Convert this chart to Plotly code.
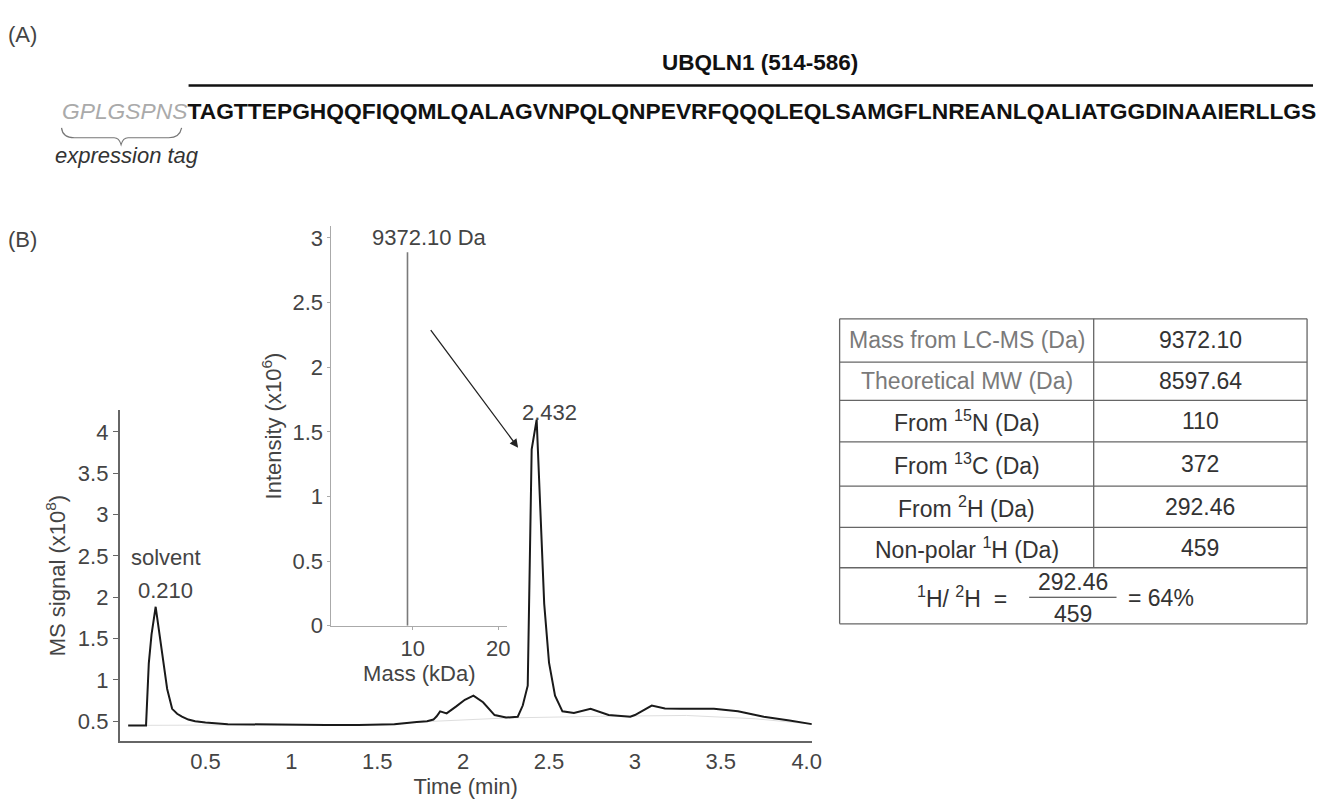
import plotly.graph_objects as go

W, H = 1326, 810
FONT = "Liberation Sans, Arial, sans-serif"

# ---------------- data ----------------
time_min = [0.05, 0.10, 0.154, 0.17, 0.186, 0.21, 0.23, 0.248, 0.277, 0.306, 0.335, 0.363, 0.40,
            0.44, 0.50, 0.63, 0.80, 1.01, 1.20, 1.39, 1.60, 1.73, 1.79, 1.827, 1.846, 1.866,
            1.904, 1.96, 2.01, 2.06, 2.116, 2.183, 2.25, 2.318, 2.347, 2.376, 2.399, 2.428,
            2.472, 2.50, 2.535, 2.578, 2.645, 2.742, 2.847, 2.973, 3.0, 3.098, 3.175, 3.27,
            3.46, 3.60, 3.75, 3.90, 4.03]
ms_signal = [0.45, 0.45, 0.45, 1.2, 1.55, 1.885, 1.6, 1.29, 0.89, 0.65, 0.59, 0.556, 0.52,
             0.50, 0.485, 0.465, 0.46, 0.455, 0.455, 0.455, 0.465, 0.49, 0.50, 0.52, 0.56, 0.62,
             0.595, 0.68, 0.76, 0.81, 0.73, 0.575, 0.545, 0.555, 0.69, 0.93, 3.79, 4.15,
             1.92, 1.21, 0.81, 0.62, 0.60, 0.65, 0.575, 0.555, 0.575, 0.69, 0.655, 0.65,
             0.65, 0.62, 0.555, 0.51, 0.465]

baseline_time = [0.05, 0.5, 1.0, 1.5, 1.73, 2.26, 2.8, 3.3, 3.7, 4.03]
baseline_signal = [0.45, 0.455, 0.455, 0.46, 0.49, 0.54, 0.56, 0.57, 0.53, 0.465]

deconv_mass_kda = [9.3721, 9.3721]
deconv_intensity = [0.0, 2.89]

main_yticks = [0.5, 1, 1.5, 2, 2.5, 3, 3.5, 4]
main_xticks = [0.5, 1, 1.5, 2, 2.5, 3, 3.5, 4.0]
main_xticklabels = ["0.5", "1", "1.5", "2", "2.5", "3", "3.5", "4.0"]
inset_yticks = [0, 0.5, 1, 1.5, 2, 2.5, 3]
inset_yticklabels = ["0", "0.5", "1", "1.5", "2", "2.5", "3"]
inset_xticks = [10, 20]

table_labels = ["Mass from LC-MS (Da)", "Theoretical MW (Da)", "From <sup>15</sup>N (Da)",
                "From <sup>13</sup>C (Da)", "From <sup>2</sup>H (Da)", "Non-polar <sup>1</sup>H (Da)"]
table_values = ["9372.10", "8597.64", "110", "372", "292.46", "459"]
label_colors = ["#7a7a7a", "#7a7a7a", "#333333", "#333333", "#333333", "#333333"]

tag_seq = "GPLGSPNS"
main_seq = "TAGTTEPGHQQFIQQMLQALAGVNPQLQNPEVRFQQQLEQLSAMGFLNREANLQALIATGGDINAAIERLLGS"


def px(x):
    return x / W


def py(y):
    return 1 - y / H


fig = go.Figure()

fig.add_trace(go.Scatter(x=baseline_time, y=baseline_signal, mode="lines",
                         line=dict(color="#dedede", width=1), xaxis="x", yaxis="y",
                         hoverinfo="skip", showlegend=False))
fig.add_trace(go.Scatter(x=time_min, y=ms_signal, mode="lines",
                         line=dict(color="#1a1a1a", width=2), xaxis="x", yaxis="y",
                         showlegend=False))
fig.add_trace(go.Scatter(x=deconv_mass_kda, y=deconv_intensity, mode="lines",
                         line=dict(color="#7a7a7a", width=1.6), xaxis="x2", yaxis="y2",
                         showlegend=False))

axis_font = dict(family=FONT, size=22, color="#444")

fig.update_layout(
    width=W, height=H, margin=dict(l=0, r=0, t=0, b=0),
    paper_bgcolor="white", plot_bgcolor="rgba(0,0,0,0)",
    font=dict(family=FONT, size=22, color="#333"),
    xaxis=dict(domain=[px(120.5), px(818)], range=[0, 4.03], showgrid=False, zeroline=False,
               showline=True, linecolor="#666", linewidth=1.5, tickvals=main_xticks,
               ticktext=main_xticklabels, ticks="", tickfont=axis_font,
               title=dict(text="Time (min)", font=axis_font, standoff=6)),
    yaxis=dict(domain=[py(753), py(417)], range=[0.262, 4.262], showgrid=False, zeroline=False,
               showline=True, linecolor="#666", linewidth=1.5, tickvals=main_yticks,
               ticks="outside", ticklen=5, tickcolor="#666", tickfont=axis_font,
               title=dict(text="MS signal (x10<sup>8</sup>)", font=axis_font, standoff=6)),
    xaxis2=dict(domain=[px(334), px(511)], range=[0.465, 21.05], anchor="y2", showgrid=False,
                zeroline=False, showline=True, linecolor="#aaa", linewidth=1, tickvals=inset_xticks,
                ticks="outside", ticklen=3, tickcolor="#aaa", tickfont=axis_font,
                title=dict(text="Mass (kDa)", font=axis_font, standoff=0)),
    yaxis2=dict(domain=[py(636), py(230)], range=[0, 3.09], anchor="x2", showgrid=False,
                zeroline=False, showline=True, linecolor="#aaa", linewidth=1,
                tickvals=inset_yticks, ticktext=inset_yticklabels, ticks="outside", ticklen=3,
                tickcolor="#aaa", tickfont=axis_font,
                title=dict(text="Intensity (x10<sup>6</sup>)", font=axis_font, standoff=4)),
)

ann = []
shapes = []


def text(x, y, s, size=22, color="#333", xanchor="center", yanchor="middle"):
    ann.append(dict(x=px(x), y=py(y), xref="paper", yref="paper", text=s, showarrow=False,
                    xanchor=xanchor, yanchor=yanchor,
                    font=dict(family=FONT, size=size, color=color)))


# panel labels
text(6, 35, "(A)", xanchor="left", color="#444")
text(6, 243, "(B)", xanchor="left", color="#444")

# Part A
text(766, 64, "<b>UBQLN1 (514-586)</b>", size=22.5, color="#111")
shapes.append(dict(type="line", xref="paper", yref="paper", x0=px(190), x1=px(1323),
                   y0=py(87), y1=py(87), line=dict(color="#111", width=2.5)))
text(60, 113, "<i><span style='color:#aaaaaa'>" + tag_seq + "</span></i><b>" + main_seq + "</b>",
     size=22.8, color="#111", xanchor="left")
brace = ("M {a},{b} Q {c},{d} {e},{d} L {f},{d} Q {g},{d} {h},{i} Q {j},{d} {k},{d} "
         "L {l},{d} Q {m},{d} {n},{b}").format(
    a=px(62), b=py(130), c=px(63), d=py(140), e=px(75), f=px(115), g=px(120), h=px(122),
    i=py(147), j=px(124), k=px(129), l=px(170), m=px(181), n=px(183))
shapes.append(dict(type="path", xref="paper", yref="paper", path=brace,
                   line=dict(color="#777", width=1.2)))
text(53, 158, "<i>expression tag</i>", size=22, color="#333", xanchor="left")

# chart annotations
ann.append(dict(x=0.27, y=2.48, xref="x", yref="y", text="solvent", showarrow=False,
                yanchor="middle", font=axis_font))
ann.append(dict(x=0.27, y=2.08, xref="x", yref="y", text="0.210", showarrow=False,
                yanchor="middle", font=axis_font))
ann.append(dict(x=2.432, y=4.24, xref="x", yref="y", text="2.432", showarrow=False,
                yanchor="middle", xshift=12, font=axis_font))
ann.append(dict(x=11.9, y=3.0, xref="x2", yref="y2", text="9372.10 Da", showarrow=False,
                yanchor="middle", font=axis_font))
ann.append(dict(x=2.32, y=3.81, ax=1.805, ay=5.25, xref="x", yref="y", axref="x", ayref="y",
                text="", showarrow=True, arrowhead=2, arrowsize=1.3, arrowwidth=1.3,
                arrowcolor="#222"))

# table
tl, tm, tr = 846, 1102, 1317
rows = [324, 368, 407, 449, 494, 536, 577, 634]
for i, yv in enumerate(rows):
    shapes.append(dict(type="line", xref="paper", yref="paper", x0=px(tl), x1=px(tr),
                       y0=py(yv), y1=py(yv), line=dict(color="#666", width=1.3)))
shapes.append(dict(type="line", xref="paper", yref="paper", x0=px(tl), x1=px(tl),
                   y0=py(rows[0]), y1=py(rows[-1]), line=dict(color="#666", width=1.3)))
shapes.append(dict(type="line", xref="paper", yref="paper", x0=px(tr), x1=px(tr),
                   y0=py(rows[0]), y1=py(rows[-1]), line=dict(color="#666", width=1.3)))
shapes.append(dict(type="line", xref="paper", yref="paper", x0=px(tm), x1=px(tm),
                   y0=py(rows[0]), y1=py(rows[-2]), line=dict(color="#666", width=1.3)))
for i in range(6):
    yc = (rows[i] + rows[i + 1]) / 2
    text((tl + tm) / 2, yc, table_labels[i], size=23, color=label_colors[i])
    text((tm + tr) / 2, yc, table_values[i], size=23, color="#333")

# ratio row
text(969, 607, "<sup>1</sup>H/ <sup>2</sup>H  =", size=23, color="#333")
text(1081, 592, "292.46", size=23, color="#333")
text(1081, 624, "459", size=23, color="#333")
shapes.append(dict(type="line", xref="paper", yref="paper", x0=px(1037), x1=px(1125),
                   y0=py(607), y1=py(607), line=dict(color="#333", width=1.2)))
text(1170, 608, "= 64%", size=23, color="#333")

fig.update_layout(annotations=ann, shapes=shapes)
fig.write_html("out.html")
